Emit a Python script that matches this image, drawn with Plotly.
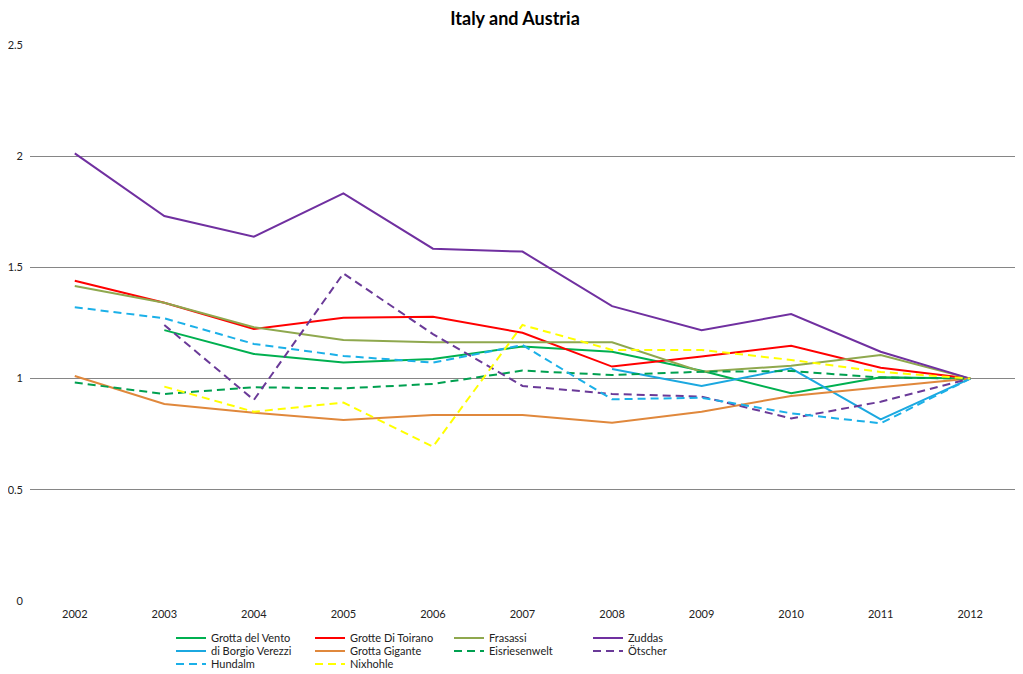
import plotly.graph_objects as go

years = ["2002", "2003", "2004", "2005", "2006", "2007", "2008", "2009", "2010", "2011", "2012"]

grotta_del_vento = [None, 1.218, 1.111, 1.072, 1.088, 1.144, 1.121, 1.035, 0.934, 1.006, 1.0]
grotte_di_toirano = [1.440, 1.341, 1.223, 1.274, 1.278, 1.206, 1.054, 1.099, 1.148, 1.049, 1.0]
frasassi = [1.416, 1.341, 1.231, 1.174, 1.163, 1.163, 1.163, 1.031, 1.058, 1.106, 1.0]
zuddas = [2.013, 1.731, 1.638, 1.833, 1.584, 1.571, 1.326, 1.218, 1.290, 1.121, 1.0]
di_borgio_verezzi = [None, None, None, None, None, None, 1.043, 0.967, 1.046, 0.817, 1.0]
grotta_gigante = [1.012, 0.886, 0.847, 0.814, 0.836, 0.836, 0.802, 0.851, 0.922, 0.961, 1.0]
eisriesenwelt = [0.982, 0.931, 0.961, 0.956, 0.976, 1.036, 1.016, 1.031, 1.034, 1.005, 1.0]
oetscher = [None, 1.241, 0.904, 1.473, 1.200, 0.967, 0.931, 0.919, 0.821, 0.896, 1.0]
hundalm = [1.321, 1.271, 1.156, 1.102, 1.072, 1.151, 0.907, 0.914, 0.844, 0.799, 1.0]
nixhohle = [None, 0.964, 0.851, 0.892, 0.694, 1.241, 1.129, 1.129, 1.084, 1.030, 1.0]

y_ticks = [0, 0.5, 1, 1.5, 2, 2.5]
y_tick_labels = ["0", "0.5", "1", "1.5", "2", "2.5"]

series = [
    ("Grotta del Vento", grotta_del_vento, "#00B050", "solid", "legend"),
    ("Grotte Di Toirano", grotte_di_toirano, "#FF0000", "solid", "legend"),
    ("Frasassi", frasassi, "#8FA84E", "solid", "legend"),
    ("Zuddas", zuddas, "#7030A0", "solid", "legend"),
    ("di Borgio Verezzi", di_borgio_verezzi, "#1BA8E0", "solid", "legend2"),
    ("Grotta Gigante", grotta_gigante, "#E0883C", "solid", "legend2"),
    ("Eisriesenwelt", eisriesenwelt, "#00A050", "8px,5px", "legend2"),
    ("Ötscher", oetscher, "#6A3A98", "8px,5px", "legend2"),
    ("Hundalm", hundalm, "#1BB0E8", "8px,5px", "legend3"),
    ("Nixhohle", nixhohle, "#FFFF00", "8px,5px", "legend3"),
]

FONT = "Lato"

fig = go.Figure()
for name, vals, color, dash, leg in series:
    fig.add_trace(go.Scatter(
        x=years, y=vals, name=name, mode="lines",
        line=dict(color=color, width=2, dash=dash),
        connectgaps=False, legend=leg,
    ))

# page body has an 8px default margin; compensate
OFF = 8
W, H = 1023 - OFF, 674 - OFF
ml, mr, mt, mb = 30 - OFF, 8, 45 - OFF, 73


def cx(px):
    return (px - OFF) / W


def cy(py):
    return 1 - (py - OFF) / H


leg_common = dict(
    orientation="h", xanchor="left", yanchor="middle",
    xref="container", yref="container",
    font=dict(family=FONT, size=11, color="#222222"),
    bgcolor="rgba(0,0,0,0)", entrywidth=94, entrywidthmode="pixels",
    itemwidth=30, tracegroupgap=0,
)

fig.update_layout(
    width=W, height=H,
    margin=dict(l=ml, r=mr, t=mt, b=mb, autoexpand=False),
    paper_bgcolor="white", plot_bgcolor="white",
    font=dict(family=FONT, size=11, color="#222222"),
    title=dict(text="<b>Italy and Austria</b>", x=cx(515), xanchor="center",
               xref="container", yref="container",
               y=cy(19), yanchor="middle",
               font=dict(family=FONT, size=18, color="#000000")),
    xaxis=dict(type="category", range=[-0.5, 10.5], showgrid=False,
               showline=False, ticks="", tickfont=dict(size=11),
               ticklabelstandoff=5, zeroline=False, fixedrange=True,
               automargin=False),
    yaxis=dict(range=[0, 2.5], tickvals=y_ticks, ticktext=y_tick_labels,
               showgrid=True, gridcolor="#868686", gridwidth=1,
               zeroline=False, showline=False, ticks="",
               tickfont=dict(size=11), ticklabelstandoff=6, fixedrange=True,
               automargin=False),
    legend=dict(x=cx(171), y=cy(638), **leg_common),
    legend2=dict(x=cx(171), y=cy(651), **leg_common),
    legend3=dict(x=cx(171), y=cy(664), **leg_common),
    showlegend=True,
)

fig.write_html("out.html")
